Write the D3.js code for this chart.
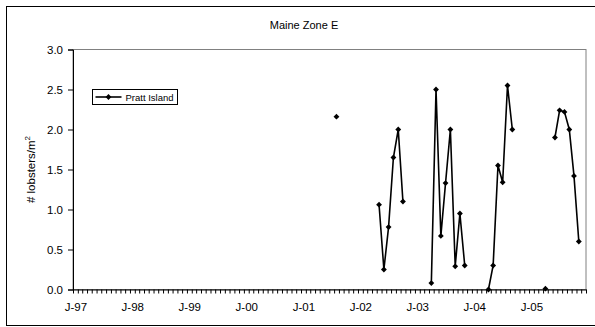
<!DOCTYPE html>
<html>
<head>
<meta charset="utf-8">
<script src="https://cdn.jsdelivr.net/npm/d3@7"></script>
<style>
  body { margin: 0; background: #fff; }
  text { font-family: "Liberation Sans", Arial, sans-serif; fill: #000; }
</style>
</head>
<body>
<svg id="chart" width="595" height="327"></svg>
<script>
// samples (null = gap in the series, breaks the line)
var sampleMonths = [
	"2001-08", "2002-04",
	"2002-05", "2002-06", "2002-07", "2002-08", "2002-09", "2002-10", "2003-03",
	"2003-04", "2003-05", "2003-06", "2003-07", "2003-08", "2003-09", "2003-10", "2003-11", "2004-03",
	"2004-04", "2004-05", "2004-06", "2004-07", "2004-08", "2004-09", "2005-03",
	"2005-04", "2005-05",
	"2005-06", "2005-07", "2005-08", "2005-09", "2005-10", "2005-11"
];
var lobsters = [
	2.16, null,
	1.06, 0.25, 0.78, 1.65, 2.00, 1.10, null,
	0.08, 2.50, 0.67, 1.33, 2.00, 0.29, 0.95, 0.30, null,
	0.00, 0.30, 1.55, 1.34, 2.55, 2.00, null,
	0.01, null,
	1.90, 2.24, 2.22, 2.00, 1.42, 0.60
];
var seriesName = "Pratt Island";
var yTicks = [0, 0.5, 1, 1.5, 2, 2.5, 3];
var yearLabels = [1997, 1998, 1999, 2000, 2001, 2002, 2003, 2004, 2005];

var svg = d3.select("#chart");
var margin = {left: 73, top: 49.5, right: 586, bottom: 289.5};

var parseMonth = d3.timeParse("%Y-%m");
// points sit in the middle of their month
var midMonth = function(d) { return d3.timeDay.offset(d, 15); };

var x = d3.scaleTime()
	.domain([new Date(1997, 0, 1), new Date(2006, 0, 1)])
	.range([margin.left, margin.right]);
var y = d3.scaleLinear().domain([0, 3]).range([margin.bottom, margin.top]);

var data = sampleMonths.map(function(m, i) {
	return {date: midMonth(parseMonth(m)), value: lobsters[i]};
});

// outer chart border
svg.append("rect")
	.attr("x", 6.5).attr("y", 6.5)
	.attr("width", 600).attr("height", 319)
	.attr("fill", "none").attr("stroke", "#000").attr("stroke-width", 1);

// plot area border
svg.append("rect")
	.attr("x", margin.left).attr("y", margin.top)
	.attr("width", margin.right - margin.left).attr("height", margin.bottom - margin.top)
	.attr("fill", "none").attr("stroke", "#808080").attr("stroke-width", 1);

svg.append("text")
	.attr("x", 304).attr("y", 29)
	.attr("text-anchor", "middle")
	.style("font-size", "11px")
	.text("Maine Zone E");

// y axis
var yAxis = svg.append("g")
	.attr("transform", "translate(" + margin.left + ",0)")
	.call(d3.axisLeft(y).tickValues(yTicks).tickFormat(d3.format(".1f")).tickSize(5).tickPadding(5));
yAxis.selectAll("text").style("font-size", "11.5px");
yAxis.selectAll("path, line").attr("stroke", "#000");

// x axis: monthly minor ticks
var xAxis = svg.append("g")
	.attr("transform", "translate(0," + margin.bottom + ")")
	.call(d3.axisBottom(x).tickValues(d3.timeMonth.range(new Date(1997, 0, 1), new Date(2006, 0, 2)))
		.tickFormat("").tickSize(4).tickSizeOuter(0));
xAxis.selectAll("path, line").attr("stroke", "#000");

// year labels centred on January
var xLabels = svg.append("g")
	.attr("transform", "translate(0," + margin.bottom + ")")
	.call(d3.axisBottom(x).tickValues(yearLabels.map(function(yr) { return new Date(yr, 0, 16); }))
		.tickFormat(d3.timeFormat("J-%y")).tickSize(0).tickPadding(13));
xLabels.select(".domain").remove();
xLabels.selectAll("text").style("font-size", "11.5px");

// y title
var ytitle = svg.append("text")
	.attr("transform", "translate(35," + ((margin.top + margin.bottom) / 2) + ") rotate(-90)")
	.attr("text-anchor", "middle")
	.style("font-size", "11.5px");
ytitle.append("tspan").text("# lobsters/m");
ytitle.append("tspan").attr("dy", -5).style("font-size", "8px").text("2");

// series line
var line = d3.line()
	.defined(function(d) { return d.value !== null; })
	.x(function(d) { return x(d.date); })
	.y(function(d) { return y(d.value); });

svg.append("path")
	.datum(data)
	.attr("d", line)
	.attr("fill", "none")
	.attr("stroke", "#000")
	.attr("stroke-width", 1.6);

var diamond = d3.symbol().type(d3.symbolSquare).size(17);

svg.selectAll(".dot")
	.data(data.filter(function(d) { return d.value !== null; }))
	.enter().append("path")
	.attr("class", "dot")
	.attr("d", diamond)
	.attr("transform", function(d) { return "translate(" + x(d.date) + "," + y(d.value) + ") rotate(45)"; })
	.attr("fill", "#000");

// legend
var legend = svg.append("g").attr("transform", "translate(92.5,89.5)");
legend.append("rect")
	.attr("width", 85).attr("height", 15)
	.attr("fill", "#fff").attr("stroke", "#000");
legend.append("line")
	.attr("x1", 3).attr("x2", 29).attr("y1", 7.5).attr("y2", 7.5)
	.attr("stroke", "#000").attr("stroke-width", 1.6);
legend.append("path")
	.attr("d", diamond)
	.attr("transform", "translate(16,7.5) rotate(45)")
	.attr("fill", "#000");
legend.append("text")
	.attr("x", 33).attr("y", 11)
	.style("font-size", "9.5px")
	.text(seriesName);
</script>
</body>
</html>
